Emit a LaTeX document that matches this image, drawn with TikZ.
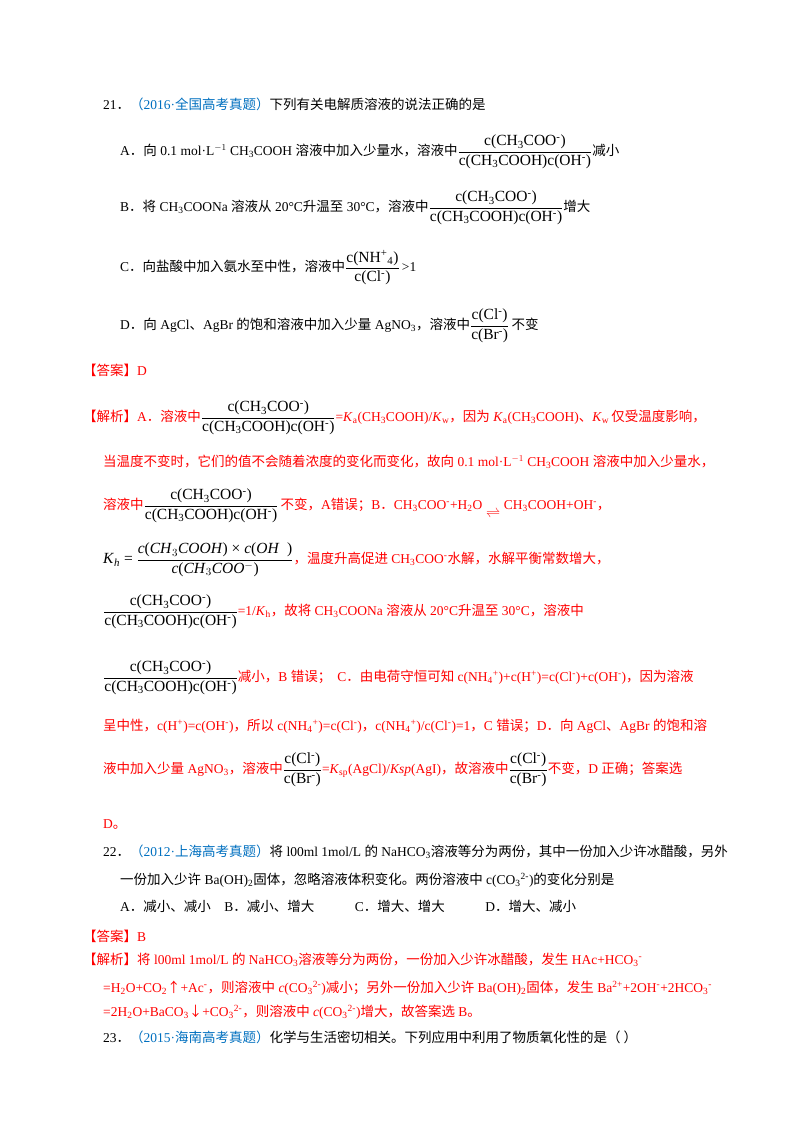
\documentclass[tikz,border=0pt]{standalone}
\usepackage{amsmath}
\usepackage{fontspec}
\setmainfont{Liberation Serif}
\newfontfamily\cjk{Noto Sans CJK SC}
\newcommand{\zh}[1]{{\cjk #1}}
\newcommand{\fr}[2]{$\dfrac{\text{\fontsize{15.5}{17}\selectfont #1}}{\text{\fontsize{15.5}{17}\selectfont #2}}$}
\newcommand{\sub}[1]{$_{\text{#1}}$}
\newcommand{\spp}[1]{$^{\text{#1}}$}
\definecolor{rd}{RGB}{255,0,0}
\definecolor{bl}{RGB}{0,112,192}
\begin{document}
\begin{tikzpicture}[x=1pt,y=-1pt,
  t/.style={anchor=west,inner sep=0pt,font=\fontsize{13.5}{15}\selectfont},
  r/.style={t,text=rd}]
\useasboundingbox[fill=white] (0,0) rectangle (800,1132);
\newcommand{\CA}{\fr{c(CH\sub{3}COO\spp{-})}{c(CH\sub{3}COOH)c(OH\spp{-})}}
\node[t] (q21) at (103,104) {21\zh{．}\textcolor{bl}{\zh{（}2016·\zh{全国高考真题）}}\zh{下列有关电解质溶液的说法正确的是}};
\node[t] (qa) at (120,152) {A\zh{．向} 0.1 mol·L$^{-1}$ CH\sub{3}COOH \zh{溶液中加入少量水，溶液中}\CA\zh{减小}};
\node[t] (qb) at (120,208) {B\zh{．将} CH\sub{3}COONa \zh{溶液从} 20°C\zh{升温至} 30°C\zh{，溶液中}\CA\zh{增大}};
\node[t] (qc) at (120,268) {C\zh{．向盐酸中加入氨水至中性，溶液中}\fr{c(NH\spp{+}\sub{4})}{c(Cl\spp{-})}\,>1};
\node[t] (qd) at (120,326) {D\zh{．向} AgCl\zh{、}AgBr \zh{的饱和溶液中加入少量} AgNO\sub{3}\zh{，溶液中}\fr{c(Cl\spp{-})}{c(Br\spp{-})}\,\zh{不变}};
\node[r] (ans1) at (83,370) {\zh{【答案】}D};
\node[r] (j1) at (83,418) {\zh{【解析】}A\zh{．溶液中}\textcolor{black}{\CA}=\textit{K}\sub{a}(CH\sub{3}COOH)/\textit{K}\sub{w}\zh{，因为} \textit{K}\sub{a}(CH\sub{3}COOH)\zh{、}\textit{K}\sub{w}\,\zh{仅受温度影响，}};
\node[r] (j2) at (103,462) {\zh{当温度不变时，它们的值不会随着浓度的变化而变化，故向} 0.1 mol·L$^{-1}$ CH\sub{3}COOH \zh{溶液中加入少量水，}};
\node[r] (j3) at (103,506) {\zh{溶液中}\textcolor{black}{\CA}\,\zh{不变，}A\zh{错误；}B\zh{．}CH\sub{3}COO\spp{-}+H\sub{2}O\;\raisebox{-8pt}{$\rightleftharpoons$}\;CH\sub{3}COOH+OH\spp{-}\zh{，}};
\node[r] (j4) at (103,560) {\textcolor{black}{\fontsize{15.5}{17}\selectfont\textit{K}$_{\textit{h}}$ = $\dfrac{\text{\textit{c}(\textit{CH}$_3$\textit{COOH}) × \textit{c}(\textit{OH}\ \ )}}{\text{\textit{c}(\textit{CH}$_3$\textit{COO}$^-$)}}$}\zh{，温度升高促进} CH\sub{3}COO\spp{-}\zh{水解，水解平衡常数增大，}};
\node[r] (j5) at (103,612) {\textcolor{black}{\CA}=1/\textit{K}\sub{h}\zh{，故将} CH\sub{3}COONa \zh{溶液从} 20°C\zh{升温至} 30°C\zh{，溶液中}};
\node[r] (j6) at (103,678) {\textcolor{black}{\CA}\zh{减小，}B \zh{错误；\ \ }C\zh{．由电荷守恒可知} c(NH\sub{4}\spp{+})+c(H\spp{+})=c(Cl\spp{-})+c(OH\spp{-})\zh{，因为溶液}};
\node[r] (j7) at (103,726) {\zh{呈中性，}c(H\spp{+})=c(OH\spp{-})\zh{，所以} c(NH\sub{4}\spp{+})=c(Cl\spp{-})\zh{，}c(NH\sub{4}\spp{+})/c(Cl\spp{-})=1\zh{，}C \zh{错误；}D\zh{．向} AgCl\zh{、}AgBr \zh{的饱和溶}};
\node[r] (j8) at (103,770) {\zh{液中加入少量} AgNO\sub{3}\zh{，溶液中}\textcolor{black}{\fr{c(Cl\spp{-})}{c(Br\spp{-})}}=\textit{K}\sub{sp}(AgCl)/\textit{Ksp}(AgI)\zh{，故溶液中}\textcolor{black}{\fr{c(Cl\spp{-})}{c(Br\spp{-})}}\zh{不变，}D \zh{正确；答案选}};
\node[r] (j9) at (103,824) {D\zh{。}};
\node[t] (q22) at (103,852) {22\zh{．}\textcolor{bl}{\zh{（}2012·\zh{上海高考真题）}}\zh{将} l00ml 1mol/L \zh{的} NaHCO\sub{3}\zh{溶液等分为两份，其中一份加入少许冰醋酸，另外}};
\node[t] (q22b) at (120,880) {\zh{一份加入少许} Ba(OH)\sub{2}\zh{固体，忽略溶液体积变化。两份溶液中} c(CO\sub{3}\spp{2-})\zh{的变化分别是}};
\node[t] (q22c) at (120,906) {A\zh{．减小、减小}\quad B\zh{．减小、增大}\qquad\quad C\zh{．增大、增大}\qquad\quad D\zh{．增大、减小}};
\node[r] (ans2) at (83,936) {\zh{【答案】}B};
\node[r] (k1) at (83,960) {\zh{【解析】将} l00ml 1mol/L \zh{的} NaHCO\sub{3}\zh{溶液等分为两份，一份加入少许冰醋酸，发生} HAc+HCO\sub{3}\spp{-}};
\node[r] (k2) at (103,988) {=H\sub{2}O+CO\sub{2}\zh{↑}+Ac\spp{-}\zh{，则溶液中} \textit{c}(CO\sub{3}\spp{2-})\zh{减小；另外一份加入少许} Ba(OH)\sub{2}\zh{固体，发生} Ba\spp{2+}+2OH\spp{-}+2HCO\sub{3}\spp{-}};
\node[r] (k3) at (103,1012) {=2H\sub{2}O+BaCO\sub{3}\zh{↓}+CO\sub{3}\spp{2-}\zh{，则溶液中} \textit{c}(CO\sub{3}\spp{2-})\zh{增大，故答案选} B\zh{。}};
\node[t] (q23) at (103,1037) {23\zh{．}\textcolor{bl}{\zh{（}2015·\zh{海南高考真题）}}\zh{化学与生活密切相关。下列应用中利用了物质氧化性的是（\ ）}};
\end{tikzpicture}
\end{document}
